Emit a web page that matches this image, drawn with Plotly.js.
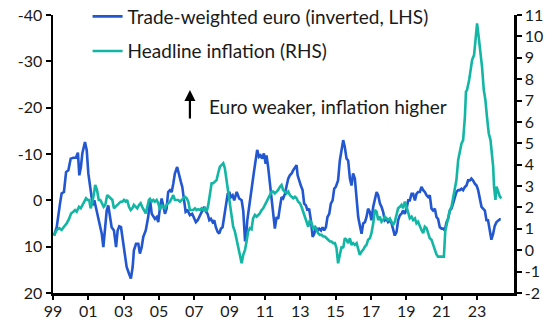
<!DOCTYPE html>
<html>
<head>
<meta charset="utf-8">
<script src="https://cdn.plot.ly/plotly-3.0.1.min.js"></script>
<style>html,body{margin:0;padding:0;background:#fff;}#chart{width:558px;height:332px;}</style>
</head>
<body>
<div id="chart"></div>
<script>
// Trade-weighted euro, % y/y (inverted, LHS)
const twiYears = [1999.06,1999.21,1999.40,1999.49,1999.62,1999.74,1999.87,2000.00,2000.15,2000.30,2000.41,2000.49,2000.58,2000.66,2000.81,2000.91,2001.00,2001.13,2001.25,2001.34,2001.47,2001.62,2001.76,2001.85,2001.94,2002.04,2002.13,2002.23,2002.32,2002.45,2002.57,2002.66,2002.75,2002.85,2002.98,2003.07,2003.17,2003.30,2003.41,2003.51,2003.58,2003.70,2003.83,2003.92,2004.02,2004.11,2004.25,2004.39,2004.49,2004.59,2004.68,2004.77,2004.87,2004.96,2005.06,2005.15,2005.24,2005.34,2005.43,2005.52,2005.62,2005.72,2005.81,2005.90,2006.03,2006.13,2006.24,2006.32,2006.43,2006.51,2006.62,2006.75,2006.88,2007.00,2007.09,2007.19,2007.28,2007.38,2007.47,2007.56,2007.66,2007.75,2007.85,2007.94,2008.04,2008.13,2008.22,2008.32,2008.41,2008.51,2008.60,2008.69,2008.79,2008.89,2008.98,2009.07,2009.17,2009.26,2009.40,2009.54,2009.68,2009.77,2009.87,2009.92,2010.00,2010.09,2010.21,2010.30,2010.39,2010.49,2010.56,2010.66,2010.75,2010.84,2010.94,2011.04,2011.09,2011.18,2011.28,2011.38,2011.47,2011.56,2011.66,2011.75,2011.85,2011.94,2012.03,2012.13,2012.23,2012.32,2012.41,2012.51,2012.60,2012.70,2012.79,2012.85,2012.94,2013.03,2013.13,2013.22,2013.32,2013.41,2013.50,2013.60,2013.70,2013.79,2013.88,2013.98,2014.07,2014.17,2014.26,2014.35,2014.45,2014.54,2014.64,2014.73,2014.83,2014.92,2015.01,2015.14,2015.24,2015.34,2015.43,2015.52,2015.62,2015.71,2015.81,2015.90,2015.99,2016.09,2016.19,2016.28,2016.37,2016.47,2016.56,2016.66,2016.75,2016.84,2016.94,2017.03,2017.13,2017.22,2017.32,2017.41,2017.51,2017.60,2017.69,2017.79,2017.88,2017.97,2018.07,2018.17,2018.26,2018.35,2018.45,2018.54,2018.64,2018.73,2018.82,2018.92,2019.02,2019.11,2019.20,2019.30,2019.39,2019.49,2019.58,2019.67,2019.77,2019.86,2019.96,2020.05,2020.15,2020.24,2020.33,2020.43,2020.52,2020.62,2020.71,2020.80,2020.90,2021.00,2021.09,2021.18,2021.28,2021.37,2021.47,2021.56,2021.65,2021.75,2021.84,2021.94,2022.03,2022.13,2022.22,2022.32,2022.41,2022.50,2022.60,2022.69,2022.78,2022.88,2022.98,2023.07,2023.16,2023.26,2023.35,2023.45,2023.54,2023.63,2023.73,2023.82,2023.92,2024.01,2024.11,2024.20,2024.30,2024.35];
const twiValues = [7.6,5.8,0.6,-1.5,-1.8,-6.1,-6.5,-9.0,-9.2,-9.2,-10.3,-5.4,-7.2,-10.1,-12.6,-10.8,-5.8,-2.2,1.1,0.0,2.2,4.3,7.2,10.1,6.5,2.2,1.1,3.6,5.8,6.5,10.1,6.5,5.6,5.8,9.4,12.2,14.4,15.8,16.9,14.4,10.8,9.4,9.4,11.5,10.1,7.9,6.5,3.6,-0.2,2.9,3.6,4.0,3.6,4.7,1.4,-0.4,1.1,2.9,1.8,-1.8,-2.2,-1.8,-3.6,-5.8,-7.2,-5.4,-4.0,-2.9,0.0,2.5,2.2,3.2,2.9,4.0,4.7,4.3,3.6,2.5,1.8,1.4,2.5,2.9,4.3,4.0,4.7,4.3,5.8,6.8,7.2,6.1,5.8,3.6,1.4,-1.4,-1.8,-0.7,-1.1,0.0,-1.8,-0.4,0.0,2.2,8.6,8.6,4.3,1.4,-2.2,-4.0,-6.5,-8.6,-10.9,-9.4,-9.7,-9.0,-10.1,-7.9,-9.7,-7.2,-3.6,0.0,3.6,6.1,3.6,4.0,1.4,-0.7,-0.4,-1.4,-3.2,-4.7,-5.4,-5.8,-6.5,-7.2,-7.6,-5.4,-4.0,-3.2,-2.2,0.7,1.1,2.2,1.8,4.3,7.9,7.2,5.8,6.5,6.1,6.5,5.8,6.5,5.8,3.6,2.9,0.7,0.0,-2.5,-2.9,-4.3,-8.6,-10.8,-13.0,-11.5,-9.0,-8.6,-4.7,-3.2,-5.8,-4.7,0.0,3.6,5.4,7.2,5.0,4.7,3.6,1.8,2.5,4.3,1.4,0.0,-1.8,-1.1,0.7,1.4,2.5,4.3,4.0,4.7,4.3,5.0,6.5,7.6,6.8,4.3,3.2,2.9,2.2,2.9,1.8,0.0,0.0,-1.4,-1.4,0.0,-1.4,-1.8,-1.8,-2.9,-2.2,-1.8,-1.1,-0.7,-1.1,1.8,2.2,1.8,3.6,4.0,5.8,6.1,6.1,6.5,4.7,4.0,2.2,1.8,0.7,-0.7,-1.8,-2.2,-2.2,-2.5,-2.2,-2.9,-3.2,-4.3,-4.3,-4.7,-4.3,-3.6,-3.2,-2.2,0.0,1.4,1.8,2.2,4.3,4.3,6.5,8.5,7.2,5.5,4.7,4.3,4.1,4.1];

// Headline inflation, % y/y (RHS)
const cpiYears = [1999.06,1999.21,1999.36,1999.49,1999.62,1999.78,1999.92,2000.02,2000.15,2000.25,2000.34,2000.47,2000.57,2000.66,2000.75,2000.87,2000.96,2001.05,2001.13,2001.22,2001.32,2001.39,2001.49,2001.59,2001.68,2001.77,2001.87,2001.96,2002.07,2002.17,2002.27,2002.36,2002.45,2002.55,2002.64,2002.74,2002.83,2002.92,2003.02,2003.11,2003.20,2003.30,2003.40,2003.49,2003.58,2003.68,2003.77,2003.87,2003.96,2004.05,2004.15,2004.25,2004.34,2004.43,2004.49,2004.59,2004.68,2004.77,2004.87,2004.96,2005.06,2005.15,2005.24,2005.34,2005.43,2005.52,2005.62,2005.72,2005.81,2005.90,2006.00,2006.09,2006.19,2006.28,2006.37,2006.47,2006.57,2006.66,2006.75,2006.85,2006.94,2007.04,2007.13,2007.22,2007.32,2007.41,2007.51,2007.60,2007.70,2007.79,2007.88,2007.98,2008.07,2008.17,2008.26,2008.35,2008.45,2008.55,2008.64,2008.73,2008.83,2008.92,2009.02,2009.11,2009.20,2009.30,2009.40,2009.49,2009.58,2009.68,2009.77,2009.87,2009.96,2010.05,2010.15,2010.24,2010.33,2010.43,2010.53,2010.62,2010.71,2010.81,2010.90,2011.00,2011.09,2011.18,2011.28,2011.38,2011.47,2011.56,2011.66,2011.75,2011.85,2011.94,2012.03,2012.13,2012.23,2012.32,2012.41,2012.51,2012.60,2012.70,2012.79,2012.88,2012.98,2013.07,2013.16,2013.26,2013.35,2013.45,2013.54,2013.64,2013.73,2013.83,2013.92,2014.01,2014.11,2014.21,2014.30,2014.39,2014.49,2014.58,2014.68,2014.77,2014.86,2014.96,2015.05,2015.14,2015.24,2015.34,2015.43,2015.52,2015.62,2015.71,2015.81,2015.90,2015.99,2016.09,2016.19,2016.28,2016.37,2016.47,2016.56,2016.66,2016.75,2016.84,2016.94,2017.03,2017.13,2017.22,2017.32,2017.41,2017.51,2017.60,2017.69,2017.79,2017.88,2017.97,2018.07,2018.17,2018.26,2018.35,2018.45,2018.54,2018.64,2018.73,2018.82,2018.92,2019.02,2019.11,2019.20,2019.30,2019.39,2019.49,2019.58,2019.67,2019.77,2019.86,2019.96,2020.05,2020.15,2020.24,2020.33,2020.43,2020.52,2020.62,2020.71,2020.80,2020.90,2021.00,2021.13,2021.21,2021.37,2021.47,2021.56,2021.65,2021.75,2021.84,2021.94,2022.03,2022.13,2022.22,2022.32,2022.38,2022.44,2022.56,2022.64,2022.73,2022.84,2022.92,2023.01,2023.11,2023.20,2023.29,2023.39,2023.48,2023.57,2023.67,2023.77,2023.84,2023.92,2023.97,2024.05,2024.11,2024.20,2024.30,2024.39];
const cpiValues = [0.71,0.95,1.03,0.95,1.1,1.26,1.49,1.72,1.8,1.88,1.8,2.03,1.96,2.12,2.2,2.43,2.35,2.35,1.96,2.2,2.66,3.05,2.82,2.35,2.35,2.2,2.03,2.12,2.58,2.5,2.43,2.35,1.96,2.03,2.12,2.2,2.27,2.27,2.35,2.27,2.35,2.03,1.88,1.96,2.12,2.03,1.96,2.12,2.2,2.03,1.88,1.72,2.03,2.35,2.4,2.27,2.35,2.27,2.35,2.2,1.88,2.12,2.03,1.96,2.12,2.2,2.27,2.43,2.58,2.35,2.35,2.35,2.27,2.35,2.43,2.5,2.43,2.27,1.88,1.88,1.88,1.96,1.88,1.92,1.88,1.96,1.88,1.96,1.8,2.12,2.66,3.13,3.13,3.2,3.28,3.6,3.91,3.99,4.07,3.83,3.2,2.82,2.2,1.57,1.1,0.87,0.49,0.25,-0.14,-0.61,-0.22,0.02,0.41,0.88,1.03,0.98,1.49,1.65,1.57,1.65,1.72,1.88,1.96,2.12,2.27,2.43,2.58,2.74,2.74,2.66,2.74,2.82,2.97,3.05,2.82,2.74,2.66,2.74,2.58,2.5,2.43,2.5,2.43,2.27,2.2,2.03,1.8,1.65,1.41,1.1,1.41,1.26,1.03,1.1,0.95,0.8,0.72,0.72,0.64,0.64,0.56,0.49,0.41,0.41,0.33,0.33,0.1,-0.61,-0.14,0.17,0.1,0.56,0.49,0.33,0.56,0.25,0.33,0.25,0.33,0.1,-0.22,-0.06,0.02,0.17,0.25,0.49,0.56,0.8,1.26,1.88,1.8,1.41,1.57,1.33,1.41,1.57,1.49,1.41,1.49,1.33,1.18,1.33,1.65,1.96,2.03,2.12,1.96,2.27,2.03,1.72,1.49,1.57,1.41,1.49,1.26,1.33,1.1,0.95,0.8,1.1,1.03,0.72,0.56,0.49,0.25,0.1,-0.2,-0.3,-0.3,-0.3,-0.3,0.9,1.49,1.88,2.03,2.43,2.74,3.28,4.22,4.69,5.0,5.15,6.24,7.41,7.49,7.96,8.51,8.9,9.13,9.83,10.61,9.91,9.36,8.58,7.49,7.03,6.24,5.47,5.15,4.53,3.91,2.97,2.35,2.97,2.74,2.5,2.43];

// Axis ticks
const xTickVals = [1999,2001,2003,2005,2007,2009,2011,2013,2015,2017,2019,2021,2023];
const xTickText = ['99','01','03','05','07','09','11','13','15','17','19','21','23'];
const leftTickVals = [-40,-30,-20,-10,0,10,20];
const leftTickText = ['-40','-30','-20','-10','0','10','20'];
const rightTickVals = [-2,-1,0,1,2,3,4,5,6,7,8,9,10,11];
const rightTickText = ['-2','-1','0','1','2','3','4','5','6','7','8','9','10','11'];

const FONT = 'Lato, "Open Sans", sans-serif';
const BLUE = '#2257d0';
const TEAL = '#13b6a4';

const traces = [
  {x: twiYears, y: twiValues, type: 'scatter', mode: 'lines', name: 'Trade-weighted euro (inverted, LHS)',
   line: {color: BLUE, width: 2.6}, yaxis: 'y', legendgroup: 'a'},
  {x: cpiYears, y: cpiValues, type: 'scatter', mode: 'lines', name: 'Headline inflation (RHS)',
   line: {color: TEAL, width: 2.6}, yaxis: 'y2', legendgroup: 'b'}
];

const layout = {
  width: 558, height: 332,
  margin: {l: 53, r: 44, t: 15, b: 39, pad: 0, autoexpand: false},
  paper_bgcolor: '#fff', plot_bgcolor: '#fff',
  font: {family: FONT, size: 16, color: '#1a1a1a'},
  showlegend: true,
  legend: {x: 0.075, y: 1.063, xanchor: 'left', yanchor: 'top', bgcolor: 'rgba(0,0,0,0)',
           font: {family: FONT, size: 19, color: '#1a1a1a'}, tracegroupgap: 7, traceorder: 'grouped'},
  xaxis: {range: [1999, 2025.1], tickvals: xTickVals, ticktext: xTickText, showgrid: false, zeroline: false,
          showline: true, linecolor: '#000', linewidth: 2.5, ticks: 'outside', ticklen: 4, tickwidth: 2,
          tickcolor: '#000', ticklabelstandoff: -2, tickfont: {family: FONT, size: 16, color: '#1a1a1a'}, fixedrange: true},
  yaxis: {range: [20, -40], tickvals: leftTickVals, ticktext: leftTickText, showgrid: false, zeroline: false,
          showline: true, linecolor: '#000', linewidth: 2.5, ticks: 'outside', ticklen: 5, tickwidth: 2,
          tickcolor: '#000', tickfont: {family: FONT, size: 16, color: '#1a1a1a'}},
  yaxis2: {range: [-2, 11], overlaying: 'y', side: 'right', tickvals: rightTickVals, ticktext: rightTickText,
           showgrid: false, zeroline: false, showline: true, linecolor: '#000', linewidth: 2.5,
           ticks: 'outside', ticklen: 5, tickwidth: 2, tickcolor: '#000',
           tickfont: {family: FONT, size: 16, color: '#1a1a1a'}},
  annotations: [
    {xref: 'paper', yref: 'paper', x: 0.297, y: 0.73, ax: 0, ay: 30, showarrow: true, arrowhead: 2,
     arrowsize: 1, arrowwidth: 2.2, arrowcolor: '#000', text: ''},
    {xref: 'paper', yref: 'paper', x: 0.333, y: 0.67, xanchor: 'left', yanchor: 'middle', showarrow: false,
     text: 'Euro weaker, inflation higher', font: {family: FONT, size: 19, color: '#1a1a1a'}}
  ]
};

Plotly.newPlot('chart', traces, layout, {staticPlot: true, displayModeBar: false});
</script>
</body>
</html>
